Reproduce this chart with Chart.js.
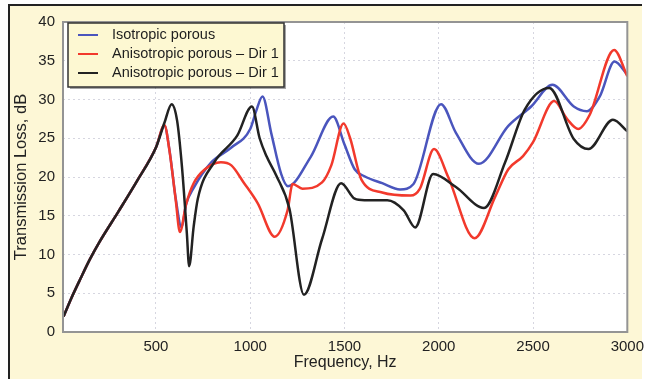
<!DOCTYPE html>
<html lang="en">
<head>
  <meta charset="UTF-8" />
  <title>Transmission Loss</title>
  <script src="https://cdn.jsdelivr.net/npm/chart.js"></script>
  <style>
    body { margin: 0; background: #fff; overflow: hidden; }
    #frame {
      position: absolute; left: 8px; top: 4px; width: 632px; height: 380px;
      background: #fdf7d6; border-left: 2px solid #222; border-top: 2px solid #222;
    }
    #tlChart { position: absolute; left: 0; top: 0; }
  </style>
</head>
<body>
  <div id="frame"></div>
  <canvas id="tlChart" width="650" height="379"></canvas>

  <script>
    const seriesLabels = ['Isotropic porous', 'Anisotropic porous \u2013 Dir 1', 'Anisotropic porous \u2013 Dir 1'];
    const seriesColors = ['#4a55bd', '#f2392c', '#222222'];
    const xTicks = [500, 1000, 1500, 2000, 2500, 3000];

    // frequency (Hz) / transmission loss (dB)
    const isoFreq = [10, 50, 100, 150, 200, 300, 400, 500, 545, 571, 605, 636, 660, 700, 790, 900, 1000, 1030, 1065, 1112, 1164, 1200, 1321, 1440, 1500, 1554, 1606, 1700, 1795, 1866, 2012, 2091, 2213, 2369, 2490, 2603, 2716, 2785, 2854, 2932, 3000];
    const isoTL   = [2, 4.3, 6.9, 9.4, 11.6, 15.5, 19.5, 23.8, 26.6, 23.6, 17.2, 13.5, 16.5, 18.6, 21.8, 23.8, 26.2, 28.4, 30.4, 25.6, 20.4, 18.8, 22.6, 27.8, 24.2, 21, 20.1, 19.2, 18.4, 19.1, 29.4, 25.7, 21.7, 26.6, 29.1, 31.9, 29.1, 28.5, 30.4, 34.9, 33.2];

    const dir1Freq = [10, 50, 100, 150, 200, 300, 400, 500, 545, 571, 605, 627, 660, 700, 760, 844, 900, 965, 1040, 1130, 1198, 1225, 1277, 1381, 1430, 1495, 1530, 1589, 1700, 1850, 1900, 1975, 2050, 2190, 2300, 2369, 2447, 2500, 2612, 2680, 2740, 2800, 2930, 3000];
    const dir1TL   = [2, 4.3, 6.9, 9.4, 11.6, 15.5, 19.5, 23.8, 26.7, 23.5, 17, 12.9, 16.5, 19.2, 21, 21.9, 21.5, 19.3, 16.6, 12.3, 15.7, 19.1, 18.5, 19.3, 21.5, 26.9, 25, 19.7, 18, 17.6, 18.5, 23.6, 20, 12.1, 17.5, 21, 22.7, 24.5, 29.8, 27.5, 26.2, 28, 36.4, 33];

    const dir2Freq = [10, 50, 100, 150, 200, 300, 400, 500, 545, 583, 612, 638, 664, 676, 700, 722, 809, 930, 1009, 1050, 1086, 1138, 1208, 1285, 1381, 1482, 1554, 1606, 1727, 1814, 1875, 1970, 2091, 2240, 2352, 2456, 2586, 2716, 2794, 2924, 3000];
    const dir2TL   = [2, 4.3, 6.9, 9.4, 11.6, 15.5, 19.5, 23.8, 27, 29.4, 27.3, 21.3, 12.7, 8.5, 13.6, 17.2, 21.9, 25.3, 29.1, 25, 22.7, 20.2, 15.9, 4.8, 12, 19.2, 17.2, 17, 17, 15.7, 13.5, 20.4, 18.7, 16, 21.9, 28.7, 31.5, 24.9, 23.6, 27.4, 25.9];

    const toPoints = (fs, vs) => fs.map((f, i) => ({ x: f, y: vs[i] }));

    const textFont = '"Liberation Sans", Arial, sans-serif';

    const plotFrame = {
      id: 'plotFrame',
      beforeDraw(chart) {
        const { ctx, chartArea: a } = chart;
        ctx.save();
        ctx.fillStyle = '#ffffff';
        ctx.fillRect(a.left, a.top, a.right - a.left, a.bottom - a.top);
        ctx.restore();
      },
      afterDatasetsDraw(chart) {
        const { ctx, chartArea: a } = chart;
        ctx.save();
        ctx.strokeStyle = '#949494';
        ctx.lineWidth = 2;
        ctx.strokeRect(a.left, a.top, a.right - a.left, a.bottom - a.top);
        ctx.restore();
      },
      afterDraw(chart) {
        // legend box in the top-left corner of the plot
        const { ctx, chartArea: a } = chart;
        const x = a.left + 5, y = a.top + 1, w = 216, h = 64;
        ctx.save();
        ctx.fillStyle = 'rgba(0,0,0,0.35)';
        ctx.fillRect(x + 2, y + 2, w, h);
        ctx.fillStyle = '#fdf8d2';
        ctx.fillRect(x, y, w, h);
        ctx.strokeStyle = '#333';
        ctx.lineWidth = 1.5;
        ctx.strokeRect(x, y, w, h);
        ctx.font = '14.5px ' + textFont;
        ctx.textBaseline = 'middle';
        seriesLabels.forEach((label, i) => {
          const ly = y + 12 + i * 19;
          ctx.strokeStyle = seriesColors[i];
          ctx.lineWidth = 2;
          ctx.beginPath();
          ctx.moveTo(x + 10, ly);
          ctx.lineTo(x + 30, ly);
          ctx.stroke();
          ctx.fillStyle = '#1e1e1e';
          ctx.fillText(label, x + 44, ly);
        });
        ctx.restore();
      }
    };

    const lineDs = (i, fs, vs) => ({
      label: seriesLabels[i],
      data: toPoints(fs, vs),
      borderColor: seriesColors[i],
      backgroundColor: seriesColors[i],
      borderWidth: 2.5,
      pointRadius: 0,
      cubicInterpolationMode: 'monotone',
      fill: false
    });

    new Chart(document.getElementById('tlChart'), {
      type: 'line',
      data: {
        datasets: [
          lineDs(2, dir2Freq, dir2TL),
          lineDs(1, dir1Freq, dir1TL),
          lineDs(0, isoFreq, isoTL)
        ]
      },
      options: {
        responsive: false,
        animation: false,
        devicePixelRatio: 1,
        layout: { padding: { left: 0, top: 22, right: 17, bottom: 0 } },
        plugins: { legend: { display: false }, tooltip: { enabled: false } },
        scales: {
          x: {
            type: 'linear',
            min: 7,
            max: 3000,
            afterBuildTicks: (s) => { s.ticks = xTicks.map(v => ({ value: v })); },
            afterFit: (s) => { s.height = 47; },
            grid: { color: '#d6d6e0', drawTicks: false },
            border: { display: false, dash: [2, 3] },
            ticks: { color: '#222', padding: 6, maxRotation: 0, callback: (v) => String(v), font: { family: textFont, size: 15 } },
            title: { display: true, text: 'Frequency, Hz', color: '#222', padding: 7, font: { family: textFont, size: 16 } }
          },
          y: {
            min: 0,
            max: 40,
            afterFit: (s) => { s.width = 63; },
            grid: { color: '#d6d6e0', drawTicks: false },
            border: { display: false, dash: [2, 3] },
            ticks: { stepSize: 5, color: '#222', padding: 8, font: { family: textFont, size: 15 } },
            title: { display: true, text: 'Transmission Loss, dB', color: '#222', padding: 12, font: { family: textFont, size: 16.5 } }
          }
        }
      },
      plugins: [plotFrame]
    });
  </script>
</body>
</html>
